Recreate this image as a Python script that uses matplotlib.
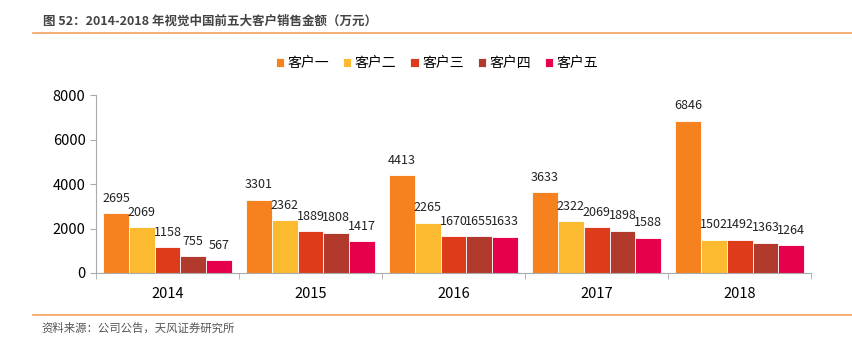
import numpy as np
import matplotlib.pyplot as plt
from matplotlib.lines import Line2D

plt.rcParams['font.family'] = ['Noto Sans CJK SC', 'DejaVu Sans']

years = ['2014', '2015', '2016', '2017', '2018']
customers = ['客户一', '客户二', '客户三', '客户四', '客户五']
kh1 = [2695, 3301, 4413, 3633, 6846]
kh2 = [2069, 2362, 2265, 2322, 1502]
kh3 = [1158, 1889, 1670, 2069, 1492]
kh4 = [755, 1808, 1655, 1898, 1363]
kh5 = [567, 1417, 1633, 1588, 1264]
series = [kh1, kh2, kh3, kh4, kh5]
colors = ['#F5821F', '#FBBA2F', '#DE3B1B', '#B23A2C', '#E6004C']

fig = plt.figure(figsize=(8.53, 3.46), dpi=100)
ax = fig.add_axes([0.1125, 0.211, 0.8385, 0.514])

x = np.arange(len(years))
w = 0.18
for i, (vals, c) in enumerate(zip(series, colors)):
    pos = x - 2 * w + i * w
    ax.bar(pos, vals, w, color=c, edgecolor='white', linewidth=0.6, label=customers[i])
    for p, v in zip(pos, vals):
        ax.annotate(str(v), (p, v), xytext=(0, 6), textcoords='offset points',
                    ha='center', va='bottom', fontsize=9, color='#222222')

ax.set_xlim(-0.5, 4.5)
ax.set_ylim(0, 8000)
ax.set_yticks([0, 2000, 4000, 6000, 8000])
ax.set_xticks(x)
ax.set_xticklabels(years)
ax.set_xticks(np.arange(-0.5, 5, 1), minor=True)
ax.tick_params(axis='x', which='major', length=0, labelsize=10.5, pad=10)
ax.tick_params(axis='x', which='minor', length=4, color='#aaaaaa', direction='out')
ax.tick_params(axis='y', length=4, color='#aaaaaa', labelsize=10.5)
for s in ['top', 'right']:
    ax.spines[s].set_visible(False)
for s in ['left', 'bottom']:
    ax.spines[s].set_color('#aaaaaa')

ax.legend(loc='center', bbox_to_anchor=(0.477, 1.18),
          ncol=5, frameon=False, fontsize=10, handlelength=0.6, handleheight=0.6,
          handletextpad=0.25, columnspacing=1.0)

fig.text(0.05, 0.94, '图 52：2014-2018 年视觉中国前五大客户销售金额（万元）',
         fontsize=9, fontweight='bold', color='#444444', va='center')
fig.add_artist(Line2D([0.039, 1.0], [0.905, 0.905], color='#F5A05A', linewidth=1.2))
fig.add_artist(Line2D([0.039, 1.0], [0.09, 0.09], color='#F5A05A', linewidth=1.2))
fig.text(0.049, 0.052, '资料来源：公司公告，天风证券研究所', fontsize=8.2,
         color='#555555', va='center')

fig.savefig('out.png', dpi=100)
